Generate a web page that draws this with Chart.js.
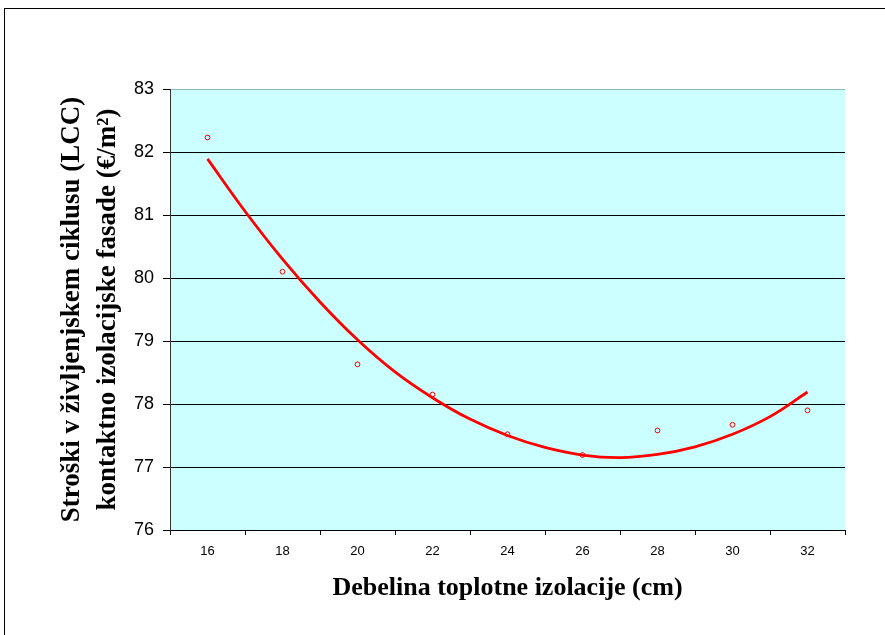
<!DOCTYPE html>
<html lang="sl">
<head>
<meta charset="UTF-8" />
<title>LCC</title>
<script src="https://cdn.jsdelivr.net/npm/chart.js"></script>
<style>
  body { margin: 0; background: #fff; }
  #wrap { position: relative; width: 885px; height: 635px; overflow: hidden; }
  #frame { position: absolute; left: 4px; top: 8px; width: 1000px; height: 1000px; border: 1px solid #000; }
  canvas { position: absolute; left: 0; top: 0; }
</style>
</head>
<body>
<div id="wrap">
  <div id="frame"></div>
  <canvas id="myChart" width="885" height="635"></canvas>
</div>
<script>
  // measured points (thickness in cm, LCC in EUR/m2)
  const thickness = [16, 18, 20, 22, 24, 26, 28, 30, 32];
  const lcc = [82.23, 80.1, 78.63, 78.15, 77.52, 77.19, 77.58, 77.67, 77.9];

  // trend curve
  const trendX = [16, 17, 18, 19, 20, 21, 22, 23, 24, 25, 26, 27, 28, 29, 30, 31, 32];
  const trendY = [81.89, 81.06, 80.3, 79.62, 79.02, 78.51, 78.1, 77.76, 77.5, 77.31, 77.19, 77.15, 77.2, 77.32, 77.52, 77.8, 78.19];

  const xTicks = [15, 16, 17, 18, 19, 20, 21, 22, 23, 24, 25, 26, 27, 28, 29, 30, 31, 32, 33];

  Chart.defaults.font.family = "'Liberation Sans', Arial, sans-serif";
  Chart.defaults.color = "#000";

  const plotBg = {
    id: "plotBg",
    beforeDraw(chart) {
      const a = chart.chartArea;
      const c = chart.ctx;
      c.save();
      c.fillStyle = "#CCFFFF";
      c.fillRect(a.left, a.top, a.right - a.left, a.bottom - a.top);
      c.restore();
    },
  };

  const ctx = document.getElementById("myChart").getContext("2d");
  const myChart = new Chart(ctx, {
    type: "line",
    data: {
      datasets: [
        {
          data: thickness.map((x, i) => ({ x: x, y: lcc[i] })),
          showLine: false,
          pointStyle: "circle",
          pointRadius: 2.4,
          pointBorderWidth: 1,
          pointBorderColor: "#FF0000",
          pointBackgroundColor: "rgba(0,0,0,0)",
        },
        {
          data: trendX.map((x, i) => ({ x: x, y: trendY[i] })),
          borderColor: "#FF0000",
          borderWidth: 2.8,
          pointRadius: 0,
          tension: 0.4,
          fill: false,
        },
      ],
    },
    options: {
      responsive: false,
      animation: false,
      layout: { padding: { top: 89, right: 40, left: 0, bottom: 0 } },
      plugins: { legend: { display: false }, tooltip: { enabled: false } },
      scales: {
        x: {
          type: "linear",
          min: 15,
          max: 33,
          afterBuildTicks: (scale) => {
            scale.ticks = xTicks.map((v) => ({ value: v }));
          },
          afterFit: (scale) => {
            scale.height = 105;
          },
          ticks: {
            autoSkip: false,
            maxRotation: 0,
            padding: 9,
            font: { size: 13 },
            callback: (v) => (v % 2 === 0 ? String(v) : ""),
          },
          grid: {
            drawOnChartArea: false,
            tickLength: 5,
            tickColor: (c) => (c.tick && c.tick.value % 2 === 1 ? "#000" : "rgba(0,0,0,0)"),
          },
          border: { color: "#000", width: 1 },
          title: {
            display: true,
            text: "Debelina toplotne izolacije (cm)",
            font: { family: "'Liberation Serif', 'Times New Roman', serif", size: 26, weight: "bold", lineHeight: 1.2 },
            padding: { top: 0, bottom: 31 },
          },
        },
        y: {
          min: 76,
          max: 83,
          afterFit: (scale) => {
            scale.width = 170;
          },
          ticks: { stepSize: 1, padding: 9, font: { size: 18 } },
          grid: {
            color: (c) => (c.tick && c.tick.value === 83 ? "#8fb8b8" : "#000"),
            tickColor: "#000",
            tickLength: 7,
            lineWidth: 1,
          },
          border: { color: "#333", width: 1 },
          title: {
            display: true,
            text: ["Stroški v življenjskem ciklusu (LCC)", "kontaktno izolacijske fasade (€/m²)"],
            font: { family: "'Liberation Serif', 'Times New Roman', serif", size: 27, weight: "bold", lineHeight: 1.33 },
            padding: { top: 54, bottom: 0 },
          },
        },
      },
    },
    plugins: [plotBg],
  });
</script>
</body>
</html>
